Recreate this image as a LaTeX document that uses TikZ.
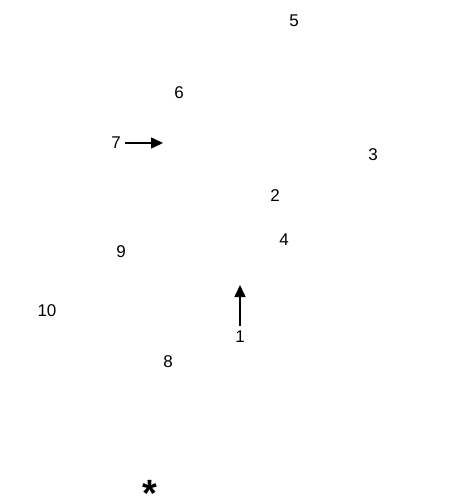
\documentclass[tikz,border=0pt]{standalone}
\usepackage{fontspec}
\setmainfont{Liberation Sans}
\usetikzlibrary{arrows.meta}
\tikzset{
  num/.style={inner sep=0pt, font=\fontsize{17}{19}\selectfont},
  fleche/.style={-{Triangle[length=12pt,width=11pt]}, line width=1.5pt}
}
\begin{document}
\begin{tikzpicture}[x=1pt,y=-1pt]
    \useasboundingbox (0,0) rectangle (454,500);
    % numeros
    \node[num] (n5) at (294,21) {5};
    \node[num] (n6) at (179,93) {6};
    \node[num] (n7) at (116,143) {7};
    \node[num] (n3) at (373,155) {3};
    \node[num] (n2) at (275,196) {2};
    \node[num] (n4) at (284,240) {4};
    \node[num] (n9) at (121,252) {9};
    \node[num] (n10) at (47,311) {10};
    \node[num] (n1) at (240,337) {1};
    \node[num] (n8) at (168,362) {8};
    % etoile
    \node[inner sep=0pt, font=\fontsize{38}{40}\selectfont\bfseries] (etoile) at (150,493) {*};
    % fleches
    \coordinate (b7) at (163,143);
    \coordinate (b1) at (240,285);
    \draw[fleche] ([xshift=4pt]n7.east) -- (b7);
    \draw[fleche] ([yshift=5pt]n1.north) -- (b1);
\end{tikzpicture}
\end{document}
